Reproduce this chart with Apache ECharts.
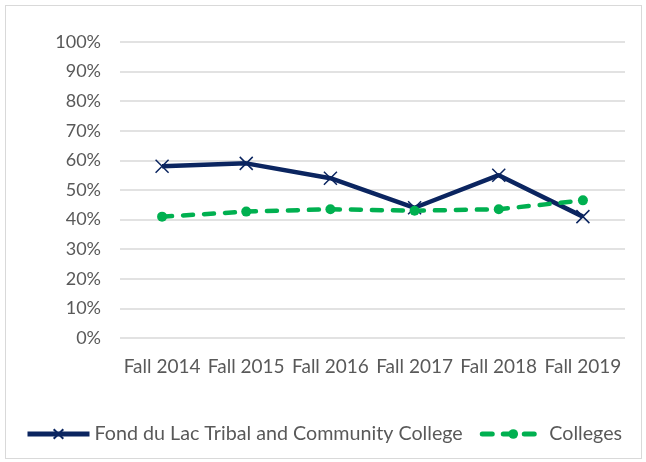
<!DOCTYPE html>
<html>
<head>
<meta charset="utf-8">
<script src="https://cdn.jsdelivr.net/npm/echarts@6/dist/echarts.min.js"></script>
<style>
  html, body { margin: 0; padding: 0; background: #fff; }
  #chart { width: 646px; height: 462px; }
  .frame { position: absolute; left: 5px; top: 5px; width: 635px; height: 452px; border: 1px solid #d9d9d9; pointer-events: none; }
</style>
</head>
<body>
<div id="chart"></div>
<div class="frame"></div>
<script>
// categories and values (percent)
const terms = ['Fall 2014', 'Fall 2015', 'Fall 2016', 'Fall 2017', 'Fall 2018', 'Fall 2019'];
const fondDuLac = [58, 59, 54, 44, 55, 41];
const colleges = [41, 42.7, 43.5, 43, 43.5, 46.5];

const navy = '#0b2560';
const green = '#00b050';
const textColor = '#595959';
const font = 'Lato, "Open Sans", sans-serif';

const chart = echarts.init(document.getElementById('chart'));

chart.setOption({
  animation: false,
  grid: { left: 120, right: 21, top: 42, bottom: 124 },
  xAxis: {
    type: 'category',
    data: terms,
    boundaryGap: true,
    axisLine: { show: false },
    axisTick: { show: false },
    axisLabel: { color: textColor, fontSize: 19, fontFamily: font, margin: 19, interval: 0 }
  },
  yAxis: {
    type: 'value',
    min: 0,
    max: 100,
    interval: 10,
    axisLine: { show: false },
    axisTick: { show: false },
    axisLabel: { color: textColor, fontSize: 18, fontFamily: font, margin: 19, formatter: '{value}%' },
    splitLine: { lineStyle: { color: '#d9d9d9', width: 1.5 } }
  },
  legend: {
    left: 20,
    top: 419,
    itemWidth: 62,
    itemHeight: 12,
    itemGap: 17,
    textStyle: { color: textColor, fontSize: 19.7, fontFamily: font },
    data: [
      { name: 'Fond du Lac Tribal and Community College', lineStyle: { width: 5 } },
      { name: 'Colleges', lineStyle: { width: 5 } }
    ]
  },
  series: [
    {
      name: 'Fond du Lac Tribal and Community College',
      type: 'line',
      data: fondDuLac,
      symbol: 'path://M0,0L10,10M10,0L0,10',
      symbolSize: 13,
      lineStyle: { color: navy, width: 4.5 },
      itemStyle: { color: navy, borderColor: navy, borderWidth: 1.5 },
      z: 2
    },
    {
      name: 'Colleges',
      type: 'line',
      data: colleges,
      symbol: 'circle',
      symbolSize: 10,
      lineStyle: { color: green, width: 4.5, type: [10, 11], cap: 'round' },
      itemStyle: { color: green },
      z: 3
    }
  ]
});
</script>
</body>
</html>
